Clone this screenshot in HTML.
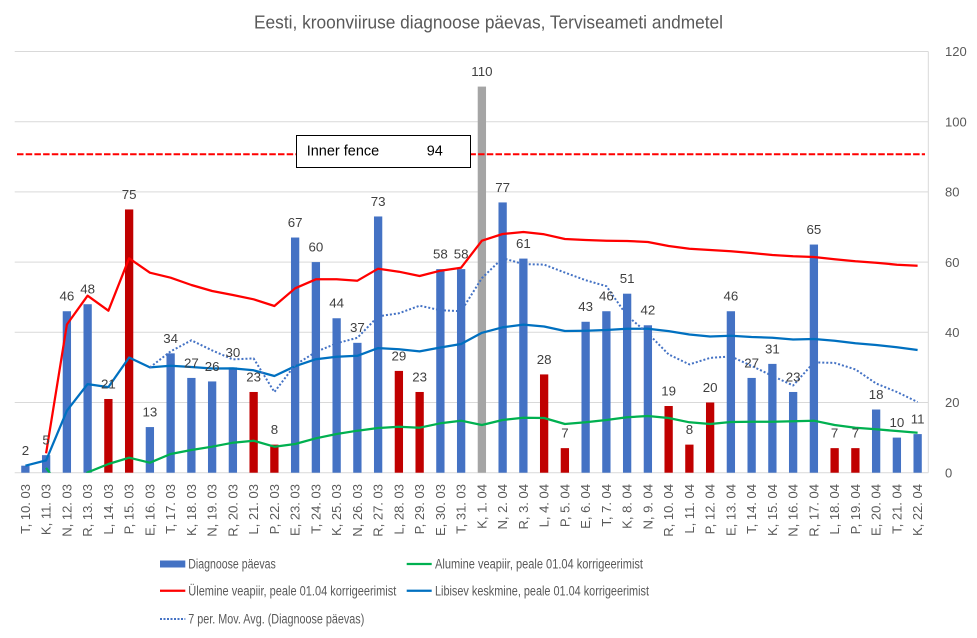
<!DOCTYPE html>
<html><head><meta charset="utf-8"><style>
html,body{margin:0;padding:0;background:#fff;}
svg{display:block;font-family:"Liberation Sans",Arial,sans-serif;}
</style></head><body>
<svg width="977" height="638" viewBox="0 0 977 638" xmlns="http://www.w3.org/2000/svg">
<rect x="0" y="0" width="977" height="638" fill="#fff"/>
<defs><clipPath id="pa"><rect x="14.7" y="51" width="913.6" height="421.7"/></clipPath></defs>
<text x="254" y="28.3" font-size="18" fill="#595959" textLength="469" lengthAdjust="spacingAndGlyphs">Eesti, kroonviiruse diagnoose päevas, Terviseameti  andmetel</text>
<g stroke="#D9D9D9" stroke-width="1">
<line x1="14.7" y1="51.5" x2="928.3" y2="51.5"/>
<line x1="14.7" y1="121.7" x2="928.3" y2="121.7"/>
<line x1="14.7" y1="191.9" x2="928.3" y2="191.9"/>
<line x1="14.7" y1="262.1" x2="928.3" y2="262.1"/>
<line x1="14.7" y1="332.3" x2="928.3" y2="332.3"/>
<line x1="14.7" y1="402.5" x2="928.3" y2="402.5"/>
<line x1="14.7" y1="472.7" x2="928.3" y2="472.7"/>
<line x1="928.3" y1="51.5" x2="928.3" y2="472.7"/>
</g>
<g font-size="13" fill="#595959">
<text x="945" y="56.2">120</text>
<text x="945" y="126.4">100</text>
<text x="945" y="196.6">80</text>
<text x="945" y="266.8">60</text>
<text x="945" y="337">40</text>
<text x="945" y="407.2">20</text>
<text x="945" y="477.4">0</text>
</g>
<g>
<rect x="21.23" y="465.68" width="8.3" height="7.02" fill="#4472C4"/>
<rect x="41.98" y="455.15" width="8.3" height="17.55" fill="#4472C4"/>
<rect x="62.73" y="311.24" width="8.3" height="161.46" fill="#4472C4"/>
<rect x="83.48" y="304.22" width="8.3" height="168.48" fill="#4472C4"/>
<rect x="104.23" y="398.99" width="8.3" height="73.71" fill="#C00000"/>
<rect x="124.98" y="209.45" width="8.3" height="263.25" fill="#C00000"/>
<rect x="145.73" y="427.07" width="8.3" height="45.63" fill="#4472C4"/>
<rect x="166.48" y="353.36" width="8.3" height="119.34" fill="#4472C4"/>
<rect x="187.23" y="377.93" width="8.3" height="94.77" fill="#4472C4"/>
<rect x="207.98" y="381.44" width="8.3" height="91.26" fill="#4472C4"/>
<rect x="228.73" y="367.4" width="8.3" height="105.3" fill="#4472C4"/>
<rect x="249.48" y="391.97" width="8.3" height="80.73" fill="#C00000"/>
<rect x="270.23" y="444.62" width="8.3" height="28.08" fill="#C00000"/>
<rect x="290.98" y="237.53" width="8.3" height="235.17" fill="#4472C4"/>
<rect x="311.73" y="262.1" width="8.3" height="210.6" fill="#4472C4"/>
<rect x="332.48" y="318.26" width="8.3" height="154.44" fill="#4472C4"/>
<rect x="353.23" y="342.83" width="8.3" height="129.87" fill="#4472C4"/>
<rect x="373.98" y="216.47" width="8.3" height="256.23" fill="#4472C4"/>
<rect x="394.73" y="370.91" width="8.3" height="101.79" fill="#C00000"/>
<rect x="415.48" y="391.97" width="8.3" height="80.73" fill="#C00000"/>
<rect x="436.23" y="269.12" width="8.3" height="203.58" fill="#4472C4"/>
<rect x="456.98" y="269.12" width="8.3" height="203.58" fill="#4472C4"/>
<rect x="477.73" y="86.6" width="8.3" height="386.1" fill="#A5A5A5"/>
<rect x="498.48" y="202.43" width="8.3" height="270.27" fill="#4472C4"/>
<rect x="519.23" y="258.59" width="8.3" height="214.11" fill="#4472C4"/>
<rect x="539.98" y="374.42" width="8.3" height="98.28" fill="#C00000"/>
<rect x="560.73" y="448.13" width="8.3" height="24.57" fill="#C00000"/>
<rect x="581.48" y="321.77" width="8.3" height="150.93" fill="#4472C4"/>
<rect x="602.23" y="311.24" width="8.3" height="161.46" fill="#4472C4"/>
<rect x="622.98" y="293.69" width="8.3" height="179.01" fill="#4472C4"/>
<rect x="643.73" y="325.28" width="8.3" height="147.42" fill="#4472C4"/>
<rect x="664.48" y="406.01" width="8.3" height="66.69" fill="#C00000"/>
<rect x="685.23" y="444.62" width="8.3" height="28.08" fill="#C00000"/>
<rect x="705.98" y="402.5" width="8.3" height="70.2" fill="#C00000"/>
<rect x="726.73" y="311.24" width="8.3" height="161.46" fill="#4472C4"/>
<rect x="747.48" y="377.93" width="8.3" height="94.77" fill="#4472C4"/>
<rect x="768.23" y="363.89" width="8.3" height="108.81" fill="#4472C4"/>
<rect x="788.98" y="391.97" width="8.3" height="80.73" fill="#4472C4"/>
<rect x="809.73" y="244.55" width="8.3" height="228.15" fill="#4472C4"/>
<rect x="830.48" y="448.13" width="8.3" height="24.57" fill="#C00000"/>
<rect x="851.23" y="448.13" width="8.3" height="24.57" fill="#C00000"/>
<rect x="871.98" y="409.52" width="8.3" height="63.18" fill="#4472C4"/>
<rect x="892.73" y="437.6" width="8.3" height="35.1" fill="#4472C4"/>
<rect x="913.48" y="434.09" width="8.3" height="38.61" fill="#4472C4"/>
</g>
<g clip-path="url(#pa)" fill="none" stroke-linejoin="round">
<polyline stroke="#00B050" stroke-width="2.25" points="46.1,467.9 66.9,496.9 87.6,472.4 108.4,464 129.1,457.7 149.9,462.7 170.6,454 191.4,450 212.1,446.7 232.9,442.7 253.6,440.7 274.4,446.7 295.1,444 315.9,438.3 336.6,434 357.4,430.7 378.1,428 398.9,426.7 419.6,427.7 440.4,423.3 461.1,420.7 481.9,425 502.6,420 523.4,417.7 544.1,418 564.9,424 585.6,422.3 606.4,420 627.1,417.3 647.9,416 668.6,418 689.4,422.3 710.1,424 730.9,422 751.6,421.7 772.4,421.7 793.1,421.3 813.9,420.7 834.6,425 855.4,427.7 876.1,429.3 896.9,431 917.6,432.7"/>
<polyline stroke="#FF0000" stroke-width="2.25" points="46.1,453.3 66.9,324.5 87.6,295.7 108.4,310.7 129.1,258.3 149.9,272.7 170.6,277.7 191.4,285 212.1,291 232.9,295 253.6,299.3 274.4,306 295.1,288.3 315.9,279.3 336.6,279.3 357.4,280.7 378.1,268.7 398.9,271.7 419.6,276 440.4,270.7 461.1,267.7 481.9,240.7 502.6,234 523.4,232 544.1,234.3 564.9,239 585.6,240 606.4,240.7 627.1,241 647.9,242 668.6,246 689.4,248.7 710.1,250 730.9,251.3 751.6,253 772.4,255 793.1,256.3 813.9,257 834.6,259.3 855.4,261.3 876.1,262.7 896.9,264.7 917.6,265.7"/>
<polyline stroke="#0070C0" stroke-width="2.25" points="25.4,465.7 46.1,460.4 66.9,410.7 87.6,384.1 108.4,387.1 129.1,357.5 149.9,367.4 170.6,365.7 191.4,367 212.1,368.5 232.9,368.4 253.6,370.3 274.4,376 295.1,366.2 315.9,359.2 336.6,356.7 357.4,355.8 378.1,348.1 398.9,349.3 419.6,351.4 440.4,347.5 461.1,344 481.9,332.8 502.6,327.3 523.4,324.6 544.1,326.5 564.9,331 585.6,330.7 606.4,330 627.1,328.8 647.9,328.7 668.6,331.1 689.4,334.5 710.1,336.5 730.9,335.8 751.6,337 772.4,337.7 793.1,339.5 813.9,339 834.6,340.7 855.4,343.3 876.1,345 896.9,347.3 917.6,350"/>
<polyline stroke="#4472C4" stroke-width="2" stroke-dasharray="2 2" points="149.9,367.4 170.6,351.4 191.4,340.3 212.1,350.4 232.9,359.4 253.6,358.4 274.4,392 295.1,364.9 315.9,351.9 336.6,343.3 357.4,337.8 378.1,316.3 398.9,313.3 419.6,305.7 440.4,310.2 461.1,311.2 481.9,278.1 502.6,258.1 523.4,264.1 544.1,264.6 564.9,272.6 585.6,280.2 606.4,286.2 627.1,315.8 647.9,333.3 668.6,354.4 689.4,364.4 710.1,357.9 730.9,356.4 751.6,365.9 772.4,375.9 793.1,385.5 813.9,362.4 834.6,362.9 855.4,369.4 876.1,383.5 896.9,392 917.6,402"/>
</g>
<line x1="17" y1="154.3" x2="925" y2="154.3" stroke="#FF0000" stroke-width="2" stroke-dasharray="6.5 2.2"/>
<rect x="296.5" y="135.5" width="174" height="32" fill="#fff" stroke="#000" stroke-width="1"/>
<text x="306.7" y="155.3" font-size="14.5" fill="#000" textLength="72.5" lengthAdjust="spacingAndGlyphs">Inner fence</text>
<text x="426.7" y="155.3" font-size="14.5" fill="#000">94</text>
<g font-size="13.3" fill="#404040" text-anchor="middle">
<text x="25.4" y="455.1">2</text>
<text x="46.1" y="444.6">5</text>
<text x="66.9" y="300.6">46</text>
<text x="87.6" y="293.6">48</text>
<text x="108.4" y="388.4">21</text>
<text x="129.1" y="198.9">75</text>
<text x="149.9" y="416.5">13</text>
<text x="170.6" y="342.8">34</text>
<text x="191.4" y="367.3">27</text>
<text x="212.1" y="370.8">26</text>
<text x="232.9" y="356.8">30</text>
<text x="253.6" y="381.4">23</text>
<text x="274.4" y="434">8</text>
<text x="295.1" y="226.9">67</text>
<text x="315.9" y="251.5">60</text>
<text x="336.6" y="307.7">44</text>
<text x="357.4" y="332.2">37</text>
<text x="378.1" y="205.9">73</text>
<text x="398.9" y="360.3">29</text>
<text x="419.6" y="381.4">23</text>
<text x="440.4" y="258.5">58</text>
<text x="461.1" y="258.5">58</text>
<text x="481.9" y="76">110</text>
<text x="502.6" y="191.8">77</text>
<text x="523.4" y="248">61</text>
<text x="544.1" y="363.8">28</text>
<text x="564.9" y="437.5">7</text>
<text x="585.6" y="311.2">43</text>
<text x="606.4" y="300.6">46</text>
<text x="627.1" y="283.1">51</text>
<text x="647.9" y="314.7">42</text>
<text x="668.6" y="395.4">19</text>
<text x="689.4" y="434">8</text>
<text x="710.1" y="391.9">20</text>
<text x="730.9" y="300.6">46</text>
<text x="751.6" y="367.3">27</text>
<text x="772.4" y="353.3">31</text>
<text x="793.1" y="381.4">23</text>
<text x="813.9" y="234">65</text>
<text x="834.6" y="437.5">7</text>
<text x="855.4" y="437.5">7</text>
<text x="876.1" y="398.9">18</text>
<text x="896.9" y="427">10</text>
<text x="917.6" y="423.5">11</text>
</g>
<g font-size="13" fill="#595959" text-anchor="end">
<text transform="translate(30,484) rotate(-90)">T, 10. 03</text>
<text transform="translate(50.7,484) rotate(-90)">K, 11. 03</text>
<text transform="translate(71.5,484) rotate(-90)">N, 12. 03</text>
<text transform="translate(92.2,484) rotate(-90)">R, 13. 03</text>
<text transform="translate(113,484) rotate(-90)">L, 14. 03</text>
<text transform="translate(133.7,484) rotate(-90)">P, 15. 03</text>
<text transform="translate(154.5,484) rotate(-90)">E, 16. 03</text>
<text transform="translate(175.2,484) rotate(-90)">T, 17. 03</text>
<text transform="translate(196,484) rotate(-90)">K, 18. 03</text>
<text transform="translate(216.7,484) rotate(-90)">N, 19. 03</text>
<text transform="translate(237.5,484) rotate(-90)">R, 20. 03</text>
<text transform="translate(258.2,484) rotate(-90)">L, 21. 03</text>
<text transform="translate(279,484) rotate(-90)">P, 22. 03</text>
<text transform="translate(299.7,484) rotate(-90)">E, 23. 03</text>
<text transform="translate(320.5,484) rotate(-90)">T, 24. 03</text>
<text transform="translate(341.2,484) rotate(-90)">K, 25. 03</text>
<text transform="translate(362,484) rotate(-90)">N, 26. 03</text>
<text transform="translate(382.7,484) rotate(-90)">R, 27. 03</text>
<text transform="translate(403.5,484) rotate(-90)">L, 28. 03</text>
<text transform="translate(424.2,484) rotate(-90)">P, 29. 03</text>
<text transform="translate(445,484) rotate(-90)">E, 30. 03</text>
<text transform="translate(465.7,484) rotate(-90)">T, 31. 03</text>
<text transform="translate(486.5,484) rotate(-90)">K, 1. 04</text>
<text transform="translate(507.2,484) rotate(-90)">N, 2. 04</text>
<text transform="translate(528,484) rotate(-90)">R, 3. 04</text>
<text transform="translate(548.7,484) rotate(-90)">L, 4. 04</text>
<text transform="translate(569.5,484) rotate(-90)">P, 5. 04</text>
<text transform="translate(590.2,484) rotate(-90)">E, 6. 04</text>
<text transform="translate(611,484) rotate(-90)">T, 7. 04</text>
<text transform="translate(631.7,484) rotate(-90)">K, 8. 04</text>
<text transform="translate(652.5,484) rotate(-90)">N, 9. 04</text>
<text transform="translate(673.2,484) rotate(-90)">R, 10. 04</text>
<text transform="translate(694,484) rotate(-90)">L, 11. 04</text>
<text transform="translate(714.7,484) rotate(-90)">P, 12. 04</text>
<text transform="translate(735.5,484) rotate(-90)">E, 13. 04</text>
<text transform="translate(756.2,484) rotate(-90)">T, 14. 04</text>
<text transform="translate(777,484) rotate(-90)">K, 15. 04</text>
<text transform="translate(797.7,484) rotate(-90)">N, 16. 04</text>
<text transform="translate(818.5,484) rotate(-90)">R, 17. 04</text>
<text transform="translate(839.2,484) rotate(-90)">L, 18. 04</text>
<text transform="translate(860,484) rotate(-90)">P, 19. 04</text>
<text transform="translate(880.7,484) rotate(-90)">E, 20. 04</text>
<text transform="translate(901.5,484) rotate(-90)">T, 21. 04</text>
<text transform="translate(922.2,484) rotate(-90)">K, 22. 04</text>
</g>
<rect x="160" y="560.5" width="25.3" height="7" fill="#4472C4"/>
<line x1="406.7" y1="564" x2="431.7" y2="564" stroke="#00B050" stroke-width="2.25"/>
<line x1="160" y1="590.7" x2="185.3" y2="590.7" stroke="#FF0000" stroke-width="2.25"/>
<line x1="406.7" y1="590.7" x2="431.7" y2="590.7" stroke="#0070C0" stroke-width="2.25"/>
<line x1="160" y1="619" x2="185.3" y2="619" stroke="#4472C4" stroke-width="2" stroke-dasharray="2 1.5"/>
<g font-size="13.5" fill="#595959">
<text x="188.3" y="568.7" textLength="87.5" lengthAdjust="spacingAndGlyphs">Diagnoose päevas</text>
<text x="435" y="568.7" textLength="208" lengthAdjust="spacingAndGlyphs">Alumine veapiir, peale 01.04 korrigeerimist</text>
<text x="188.3" y="595.4" textLength="208" lengthAdjust="spacingAndGlyphs">Ülemine veapiir, peale 01.04 korrigeerimist</text>
<text x="435" y="595.4" textLength="214" lengthAdjust="spacingAndGlyphs">Libisev keskmine, peale 01.04 korrigeerimist</text>
<text x="188.3" y="623.5" textLength="176" lengthAdjust="spacingAndGlyphs">7 per. Mov. Avg. (Diagnoose päevas)</text>
</g>
</svg>
</body></html>
